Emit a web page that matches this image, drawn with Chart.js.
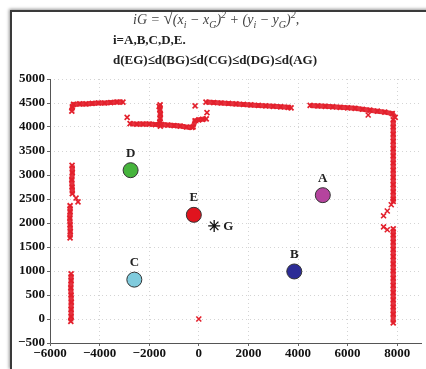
<!DOCTYPE html>
<html>
<head>
<meta charset="utf-8">
<script src="https://cdn.jsdelivr.net/npm/chart.js@4"></script>
<style>
  html, body { margin: 0; padding: 0; background: #fff; }
  body { width: 426px; height: 369px; position: relative; overflow: hidden; font-family: "Liberation Serif", serif; }
  #frame { position: absolute; left: 10px; top: 10px; width: 430px; height: 357px; border-left: 2px solid #3a3a3a; border-top: 2px solid #3a3a3a; border-bottom: 1px solid #ccc; box-shadow: -1px -1px 3px #999; }
  #chartBox { position: absolute; left: 0; top: 0; width: 426px; height: 369px; }
  .tl { position: absolute; white-space: nowrap; color: #222; }
  #line1 { left: 133px; top: 9px; font: italic 14px "Liberation Serif", serif; color: #444; }
  #line2 { left: 113px; top: 32px; font: bold 13px "Liberation Serif", serif; }
  #line3 { left: 113px; top: 52px; font: bold 13px "Liberation Serif", serif; }
  sub, sup { font-size: 10px; line-height: 0; }
  .big { font-size: 17px; font-style: normal; }
  .rad { border-top: 1px solid #444; padding-top: 1px; }
</style>
</head>
<body>
<div id="frame"></div>
<div id="chartBox"><canvas id="mapChart" width="426" height="369"></canvas></div>
<div class="tl" id="line1">iG = <span class="big">√</span><span class="rad">(x<sub>i</sub> − x<sub>G</sub>)<sup>2</sup> + (y<sub>i</sub> − y<sub>G</sub>)<sup>2</sup></span>,</div>
<div class="tl" id="line2">i=A,B,C,D,E.</div>
<div class="tl" id="line3">d(EG)≤d(BG)≤d(CG)≤d(DG)≤d(AG)</div>
<script>
// Anchor points
const pointNames = ['A', 'B', 'C', 'D', 'E'];
const pointX = [5000, 3850, -2600, -2750, -200];
const pointY = [2580, 990, 820, 3100, 2170];
const pointColors = ['#b5449e', '#2c2c96', '#80cbdd', '#46b43c', '#e0141e'];

// Centroid G
const centroidX = 620;
const centroidY = 1940;

// Tick values
const xTicks = [-6000, -4000, -2000, 0, 2000, 4000, 6000, 8000];
const yTicks = [-500, 0, 500, 1000, 1500, 2000, 2500, 3000, 3500, 4000, 4500, 5000];

// Wall segments (red crosses)
const wallTopLeftX = [-5120, -5100, -5050, -4800, -4550, -4300, -4050, -3800, -3550, -3300, -3060];
const wallTopLeftY = [4330, 4420, 4470, 4480, 4480, 4490, 4500, 4500, 4510, 4520, 4520];

const wallMidX = [-2770, -2500, -2250, -2000, -1750, -1500, -1250, -1000, -750, -500, -280];
const wallMidY = [4070, 4060, 4060, 4060, 4050, 4050, 4040, 4030, 4020, 4000, 3990];

const wallPostX = [-1560, -1570, -1550, -1560, -1570, -1550];
const wallPostY = [4460, 4360, 4270, 4180, 4100, 4020];

const wallBlockX = [-230, -150, 0, 150, 300];
const wallBlockY = [4000, 4130, 4150, 4160, 4170];

const wallTopRightX = [290, 600, 900, 1200, 1500, 1800, 2100, 2400, 2700, 3000, 3300, 3600, 3720];
const wallTopRightY = [4520, 4510, 4500, 4490, 4480, 4470, 4460, 4450, 4440, 4430, 4420, 4410, 4400];

const wallFarRightX = [4490, 4800, 5100, 5400, 5700, 6000, 6300, 6600, 6900, 7200, 7500, 7800, 7920];
const wallFarRightY = [4450, 4440, 4430, 4420, 4410, 4400, 4390, 4370, 4350, 4330, 4310, 4280, 4200];

const wallRightUpX = [7840, 7840, 7840, 7840, 7840, 7840, 7840, 7840, 7840, 7840, 7840, 7840, 7840];
const wallRightUpY = [4150, 4000, 3850, 3700, 3550, 3400, 3250, 3100, 2950, 2800, 2650, 2500, 2450];

const wallRightLowX = [7840, 7840, 7840, 7840, 7840, 7840, 7840, 7840, 7840, 7840, 7840, 7840, 7840, 7840];
const wallRightLowY = [1880, 1750, 1600, 1450, 1300, 1150, 1000, 850, 700, 550, 400, 250, 100, -80];

const wallLeftUpX = [-5110, -5100, -5120, -5110, -5100];
const wallLeftUpY = [3200, 3050, 2900, 2750, 2610];

const wallLeftMidX = [-5190, -5190, -5200, -5190, -5180, -5190];
const wallLeftMidY = [2360, 2230, 2100, 1960, 1820, 1690];

const wallLeftLowX = [-5150, -5150, -5160, -5150, -5140, -5150, -5150, -5160];
const wallLeftLowY = [940, 800, 650, 500, 350, 200, 50, -50];

// Stray crosses
const strayX = [-2890, -1600, -150, 330, -4950, -4870, 7760, 7600, 7450, 7450, 7600, 6830, 0];
const strayY = [4200, 4430, 4440, 4300, 2520, 2440, 2380, 2250, 2150, 1920, 1860, 4250, 0];

const wallRed = '#e3202c';

function zip(xs, ys) {
    return xs.map((x, i) => ({ x: x, y: ys[i] }));
}

function wallDataset(xs, ys) {
    return {
        data: zip(xs, ys),
        showLine: true,
        borderColor: 'rgba(227,32,44,0.92)',
        borderWidth: 5,
        pointStyle: 'crossRot',
        pointRadius: 3.5,
        pointBorderWidth: 1.8,
        pointBorderColor: wallRed,
        pointBackgroundColor: wallRed,
        order: 3
    };
}

const walls = [
    [wallTopLeftX, wallTopLeftY],
    [wallMidX, wallMidY],
    [wallPostX, wallPostY],
    [wallBlockX, wallBlockY],
    [wallTopRightX, wallTopRightY],
    [wallFarRightX, wallFarRightY],
    [wallRightUpX, wallRightUpY],
    [wallRightLowX, wallRightLowY],
    [wallLeftUpX, wallLeftUpY],
    [wallLeftMidX, wallLeftMidY],
    [wallLeftLowX, wallLeftLowY]
];

const datasets = walls.map(w => wallDataset(w[0], w[1]));

datasets.push({
    data: zip(strayX, strayY),
    showLine: false,
    pointStyle: 'crossRot',
    pointRadius: 3.5,
    pointBorderWidth: 1.6,
    pointBorderColor: wallRed,
    order: 3
});

// Anchor circles
datasets.push({
    data: zip(pointX, pointY),
    showLine: false,
    pointStyle: 'circle',
    pointRadius: 7.5,
    pointBorderWidth: 1,
    pointBorderColor: '#333',
    pointBackgroundColor: pointColors,
    order: 1
});

// Centroid star
datasets.push({
    data: [{ x: centroidX, y: centroidY }],
    showLine: false,
    pointStyle: 'star',
    pointRadius: 6,
    pointBorderWidth: 1.3,
    pointBorderColor: '#111',
    order: 1
});

function fmt(v) {
    return v < 0 ? '\u2212' + Math.abs(v) : String(v);
}

// Labels next to the points, plus solid left/bottom axis lines
const labelPlugin = {
    id: 'pointLabels',
    beforeDatasetsDraw(chart) {
        const c = chart.ctx, a = chart.chartArea;
        c.save();
        c.strokeStyle = '#555';
        c.lineWidth = 1;
        c.beginPath();
        c.moveTo(a.left + 0.5, a.top);
        c.lineTo(a.left + 0.5, a.bottom + 0.5);
        c.lineTo(a.right, a.bottom + 0.5);
        c.stroke();
        c.restore();
    },
    afterDatasetsDraw(chart) {
        const c = chart.ctx;
        const xs = chart.scales.x, ys = chart.scales.y;
        c.save();
        c.font = 'bold 13px "Liberation Serif", serif';
        c.fillStyle = '#222';
        c.textAlign = 'center';
        c.textBaseline = 'middle';
        pointNames.forEach((name, i) => {
            c.fillText(name, xs.getPixelForValue(pointX[i]), ys.getPixelForValue(pointY[i]) - 17);
        });
        c.textAlign = 'left';
        c.fillText('G', xs.getPixelForValue(centroidX) + 9, ys.getPixelForValue(centroidY) + 1);
        c.restore();
    }
};

const tickFont = { family: '"Liberation Serif", serif', size: 13, weight: 'bold' };

new Chart(document.getElementById('mapChart').getContext('2d'), {
    type: 'scatter',
    data: { datasets: datasets },
    options: {
        responsive: false,
        animation: false,
        layout: { autoPadding: false, padding: { top: 79, right: 4, bottom: 6, left: 0 } },
        plugins: { legend: { display: false }, tooltip: { enabled: false } },
        scales: {
            x: {
                min: -6000,
                max: 9000,
                afterBuildTicks: s => { s.ticks = xTicks.map(v => ({ value: v })); },
                afterFit: s => { s.height = 20; },
                ticks: { callback: v => fmt(v), color: '#111', font: tickFont, padding: 0, maxRotation: 0 },
                grid: { color: '#d4d4d4', tickLength: 3, tickColor: '#666' },
                border: { display: false, dash: [1, 3] }
            },
            y: {
                min: -500,
                max: 5000,
                afterBuildTicks: s => { s.ticks = yTicks.map(v => ({ value: v })); },
                afterFit: s => { s.width = 50; },
                ticks: { callback: v => fmt(v), color: '#111', font: tickFont, padding: 2 },
                grid: { color: '#d4d4d4', tickLength: 3, tickColor: '#666' },
                border: { display: false, dash: [1, 3] }
            }
        }
    },
    plugins: [labelPlugin]
});
</script>
</body>
</html>
